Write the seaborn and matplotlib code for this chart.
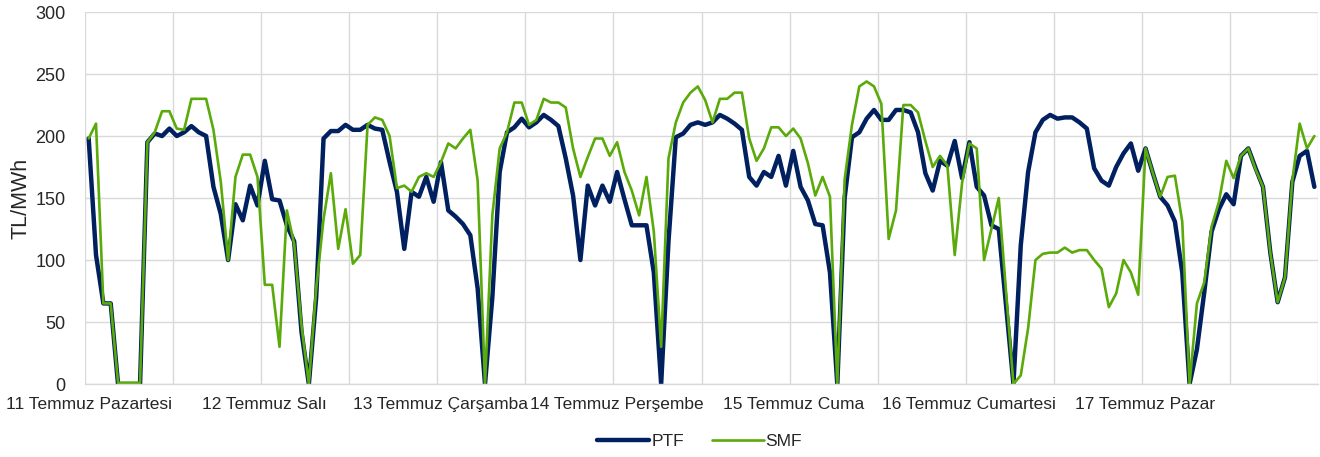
import numpy as np
import pandas as pd
import matplotlib
matplotlib.use("Agg")
import matplotlib.pyplot as plt
import seaborn as sns

# hourly prices, one list per day (TL/MWh)
days = ["11 Temmuz Pazartesi", "12 Temmuz Salı", "13 Temmuz Çarşamba",
        "14 Temmuz Perşembe", "15 Temmuz Cuma", "16 Temmuz Cumartesi",
        "17 Temmuz Pazar"]

ptf_days = [
    [198, 104, 65, 65, 0, 0, 0, 0, 195, 202, 200, 206, 200, 203, 208, 203, 200, 159, 137, 100, 145, 132, 160, 144],
    [180, 149, 148, 128, 115, 42, 0, 70, 198, 204, 204, 209, 205, 205, 209, 206, 205, 179, 155, 109, 155, 151, 167, 147],
    [179, 140, 135, 129, 120, 77, 0, 70, 171, 203, 207, 214, 207, 211, 217, 213, 208, 182, 152, 100, 160, 144, 160, 147],
    [171, 149, 128, 128, 128, 90, 0, 115, 199, 202, 209, 211, 209, 211, 217, 214, 210, 205, 167, 160, 171, 167, 184, 160],
    [188, 159, 148, 129, 128, 90, 0, 150, 199, 203, 214, 221, 213, 213, 221, 221, 219, 203, 170, 156, 180, 176, 196, 166],
    [195, 159, 152, 128, 125, 63, 0, 112, 171, 203, 213, 217, 214, 215, 215, 211, 206, 174, 164, 160, 175, 186, 194, 172],
    [190, 170, 151, 144, 131, 90, 0, 28, 74, 123, 141, 153, 145, 184, 190, 174, 159, 106, 66, 86, 163, 184, 188, 159],
]

smf_days = [
    [198, 210, 65, 65, 1, 1, 1, 1, 195, 203, 220, 220, 206, 205, 230, 230, 230, 205, 163, 100, 167, 185, 185, 167],
    [80, 80, 30, 140, 113, 47, 0, 77, 133, 170, 109, 141, 97, 104, 209, 215, 213, 200, 158, 160, 155, 167, 170, 167],
    [179, 194, 190, 198, 205, 164, 0, 136, 190, 203, 227, 227, 209, 213, 230, 227, 227, 223, 190, 167, 183, 198, 198, 184],
    [195, 171, 156, 136, 167, 123, 30, 182, 211, 227, 235, 240, 229, 211, 230, 230, 235, 235, 198, 180, 190, 207, 207, 200],
    [206, 198, 178, 152, 167, 151, 0, 165, 209, 240, 244, 240, 226, 117, 140, 225, 225, 219, 196, 175, 184, 176, 104, 162],
    [194, 190, 100, 125, 150, 74, 0, 7, 45, 100, 105, 106, 106, 110, 106, 108, 108, 100, 93, 62, 73, 100, 90, 72],
    [190, 170, 151, 167, 168, 131, 0, 65, 82, 127, 147, 180, 166, 184, 190, 173, 159, 106, 66, 86, 164, 210, 190, 200],
]

ptf = [v for d in ptf_days for v in d]
smf = [v for d in smf_days for v in d]
hours = np.arange(len(ptf))

df = pd.DataFrame({
    "hour": np.concatenate([hours, hours]),
    "value": ptf + smf,
    "seri": ["PTF"] * len(ptf) + ["SMF"] * len(smf),
})

sns.set_theme(style="white")
plt.rcParams["font.family"] = ["Liberation Sans", "DejaVu Sans"]

fig, ax = plt.subplots(figsize=(13.2, 4.57), dpi=100)
fig.subplots_adjust(left=0.0644, right=0.9985, top=0.9737, bottom=0.1597)

sns.lineplot(data=df, x="hour", y="value", hue="seri",
             palette={"PTF": "#002060", "SMF": "#5AAA0A"},
             size="seri", sizes={"PTF": 3.2, "SMF": 1.9},
             ax=ax, legend=False)

ax.set_xlim(-0.5, len(ptf) - 0.5)
ax.set_ylim(0, 300)
ax.set_yticks(range(0, 301, 50))

# gridlines every 12 hours, labels at day starts
ax.set_xticks(np.arange(-0.5, len(ptf), 12))
ax.set_xticklabels([])
ax.set_xticks(np.arange(0, len(ptf), 24), minor=True)
ax.set_xticklabels(days, minor=True)
ax.tick_params(axis="x", which="major", length=4, color="#D9D9D9", width=1)
ax.tick_params(axis="x", which="minor", length=0, pad=9, labelsize=12.5)
ax.tick_params(axis="y", length=0, pad=14, labelsize=13)

ax.grid(True, axis="both", which="major", color="#D9D9D9", lw=1.0)
ax.set_axisbelow(True)
for s in ["top", "right", "left"]:
    ax.spines[s].set_visible(False)
ax.spines["bottom"].set_color("#D9D9D9")
ax.spines["bottom"].set_linewidth(1.0)

ax.set_xlabel("")
ax.set_ylabel("TL/MWh", fontsize=15.5, labelpad=3)

handles = [plt.Line2D([], [], color="#002060", lw=3.2),
           plt.Line2D([], [], color="#5AAA0A", lw=1.9)]
fig.legend(handles, ["PTF", "SMF"], loc="center", bbox_to_anchor=(0.53, 0.035),
           ncol=2, frameon=False, fontsize=12.5, handlelength=3.0,
           handletextpad=0.1, columnspacing=1.6)

fig.savefig("out.png", dpi=100)
